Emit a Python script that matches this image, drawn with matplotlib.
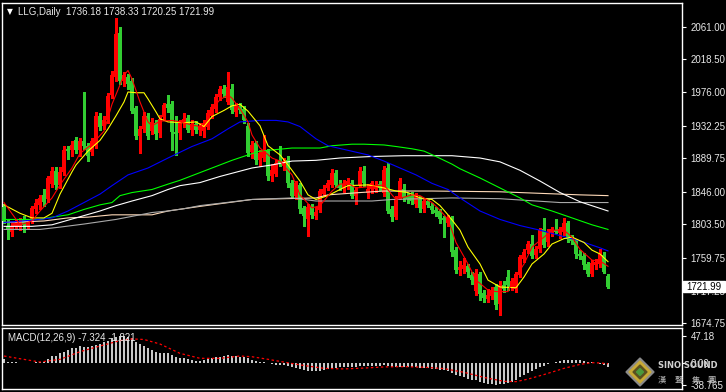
"""
LLG daily candlestick chart with moving averages and a MACD panel,
drawn in the style of a MetaTrader terminal.
"""

import matplotlib
matplotlib.use('Agg')
from matplotlib import pyplot as plt
from matplotlib.patches import Polygon, Rectangle
import numpy as np

# Daily bars, oldest first
opens = [1826, 1801, 1794, 1801, 1800, 1811, 1802, 1810, 1823, 1829,
         1842, 1837, 1856, 1873, 1855, 1872, 1902, 1900, 1914, 1900,
         1912, 1906, 1898, 1906, 1945, 1932, 1939, 1972, 1996, 2053,
         1990, 1996, 1990, 1955, 1919, 1928, 1945, 1925, 1935, 1922,
         1944, 1960, 1960, 1924, 1922, 1935, 1942, 1927, 1934, 1926,
         1925, 1931, 1945, 1954, 1970, 1980, 1963, 1980, 1950, 1958,
         1954, 1932, 1898, 1909, 1887, 1890, 1899, 1866, 1869, 1886,
         1880, 1887, 1857, 1841, 1855, 1825, 1811, 1826, 1815, 1822,
         1843, 1851, 1855, 1870, 1855, 1851, 1855, 1858, 1841, 1855,
         1873, 1845, 1849, 1850, 1856, 1844, 1877, 1823, 1813, 1838,
         1850, 1840, 1840, 1830, 1836, 1824, 1834, 1828, 1822, 1821,
         1812, 1806, 1812, 1770, 1744, 1745, 1749, 1738, 1717, 1739,
         1714, 1707, 1710, 1722, 1700, 1725, 1735, 1722, 1719, 1738,
         1758, 1770, 1778, 1764, 1771, 1797, 1780, 1792, 1796, 1792,
         1793, 1806, 1786, 1780, 1765, 1763, 1752, 1739, 1750, 1752,
         1764, 1736.18]
highs = [1830, 1810, 1806, 1809, 1812, 1814, 1810, 1828, 1836, 1842,
         1850, 1867, 1878, 1878, 1878, 1905, 1906, 1912, 1918, 1916,
         1976, 1910, 1916, 1950, 1948, 1945, 1975, 2003, 2072, 2060,
         2002, 2000, 1994, 1958, 1932, 1950, 1948, 1942, 1940, 1946,
         1962, 1972, 1964, 1945, 1940, 1948, 1946, 1940, 1938, 1936,
         1940, 1952, 1960, 1973, 1984, 1985, 2002, 1986, 1962, 1962,
         1958, 1936, 1912, 1912, 1900, 1920, 1902, 1882, 1888, 1905,
         1890, 1892, 1862, 1860, 1858, 1828, 1830, 1830, 1826, 1850,
         1855, 1862, 1876, 1874, 1862, 1862, 1864, 1862, 1852, 1878,
         1880, 1856, 1860, 1860, 1860, 1880, 1884, 1828, 1840, 1864,
         1856, 1844, 1846, 1845, 1840, 1838, 1838, 1832, 1826, 1824,
         1815, 1816, 1815, 1774, 1756, 1760, 1752, 1742, 1745, 1742,
         1718, 1720, 1722, 1726, 1730, 1730, 1744, 1734, 1742, 1764,
         1772, 1782, 1790, 1776, 1799, 1812, 1798, 1800, 1810, 1800,
         1812, 1808, 1790, 1784, 1770, 1766, 1755, 1757, 1758, 1771,
         1768, 1738.33]
lows = [1806, 1784, 1789, 1797, 1796, 1794, 1798, 1806, 1818, 1824,
        1828, 1833, 1852, 1850, 1851, 1868, 1889, 1893, 1897, 1893,
        1902, 1886, 1894, 1903, 1926, 1928, 1935, 1968, 1990, 1986,
        1984, 1980, 1948, 1915, 1896, 1924, 1915, 1921, 1915, 1918,
        1940, 1950, 1900, 1894, 1915, 1930, 1924, 1920, 1922, 1920,
        1918, 1928, 1942, 1950, 1966, 1970, 1960, 1948, 1945, 1948,
        1936, 1892, 1890, 1882, 1880, 1886, 1862, 1860, 1866, 1880,
        1875, 1852, 1838, 1836, 1818, 1802, 1789, 1812, 1810, 1820,
        1840, 1848, 1852, 1852, 1848, 1846, 1850, 1838, 1830, 1852,
        1854, 1838, 1845, 1846, 1848, 1840, 1818, 1808, 1810, 1836,
        1834, 1832, 1830, 1826, 1820, 1820, 1826, 1818, 1814, 1806,
        1787, 1802, 1762, 1740, 1738, 1740, 1735, 1726, 1712, 1705,
        1702, 1703, 1706, 1693, 1686, 1716, 1718, 1718, 1716, 1735,
        1755, 1766, 1760, 1760, 1768, 1774, 1776, 1788, 1792, 1786,
        1790, 1780, 1778, 1760, 1758, 1746, 1736, 1736, 1746, 1748,
        1740, 1720.25]
closes = [1808, 1796, 1801, 1806, 1808, 1803, 1806, 1825, 1832, 1838,
          1833, 1864, 1873, 1855, 1872, 1901, 1899, 1907, 1900, 1912,
          1906, 1892, 1912, 1945, 1931, 1940, 1971, 1998, 2051, 1990,
          1998, 1986, 1951, 1919, 1928, 1945, 1919, 1937, 1921, 1941,
          1959, 1955, 1924, 1921, 1935, 1941, 1927, 1934, 1926, 1932,
          1936, 1948, 1957, 1970, 1980, 1973, 1982, 1952, 1958, 1952,
          1939, 1896, 1907, 1887, 1896, 1900, 1866, 1874, 1884, 1883,
          1886, 1857, 1841, 1857, 1823, 1815, 1826, 1816, 1820, 1847,
          1849, 1857, 1870, 1855, 1851, 1856, 1860, 1841, 1848, 1873,
          1858, 1850, 1857, 1855, 1851, 1874, 1821, 1813, 1836, 1860,
          1838, 1837, 1834, 1840, 1825, 1834, 1829, 1822, 1818, 1810,
          1809, 1812, 1767, 1744, 1748, 1750, 1741, 1731, 1740, 1713,
          1708, 1712, 1717, 1699, 1725, 1720, 1724, 1730, 1739, 1761,
          1768, 1778, 1763, 1771, 1796, 1777, 1794, 1797, 1794, 1797,
          1806, 1784, 1782, 1765, 1762, 1750, 1739, 1753, 1754, 1765,
          1742, 1721.99]

# Moving averages (bar number, value)
ma_red_bar = [0, 4, 7, 9, 12, 14, 17, 19, 22, 25, 27, 30, 31, 32, 34, 36, 37, 39,
              42, 44, 47, 49, 51, 52, 54, 56, 57, 59, 61, 62, 64, 67, 69, 72, 74,
              77, 79, 82, 84, 86, 88, 92, 95, 97, 98, 102, 104, 107, 109, 111, 113,
              116, 118, 121, 123, 126, 127, 130, 132, 135, 137, 140, 142, 144, 147,
              149, 151]
ma_red_val = [1832, 1803, 1808, 1821, 1838, 1855, 1877, 1896, 1908, 1925, 1960,
              1998, 2004, 1993, 1963, 1937, 1932, 1938, 1939, 1937, 1933, 1931,
              1941, 1954, 1966, 1972, 1968, 1954, 1937, 1920, 1903, 1890, 1886,
              1868, 1842, 1825, 1828, 1847, 1856, 1857, 1851, 1853, 1855, 1842,
              1836, 1842, 1841, 1832, 1822, 1810, 1780, 1752, 1731, 1718, 1716,
              1716, 1728, 1752, 1774, 1787, 1796, 1796, 1787, 1771, 1757, 1756,
              1749]
ma_yellow_bar = [0, 4, 7, 10, 12, 14, 17, 18, 21, 24, 26, 28, 30, 31, 33, 35, 36,
                 38, 39, 41, 45, 48, 50, 52, 55, 57, 59, 61, 64, 66, 69, 71, 74, 76,
                 78, 81, 84, 86, 91, 95, 98, 101, 104, 107, 109, 111, 114, 116, 119,
                 121, 124, 128, 130, 132, 135, 137, 140, 142, 145, 147, 149, 151]
ma_yellow_val = [1829, 1818, 1812, 1812, 1818, 1843, 1872, 1881, 1899, 1913, 1928,
                 1945, 1963, 1976, 1975, 1975, 1967, 1950, 1941, 1937, 1936, 1937,
                 1931, 1944, 1952, 1958, 1960, 1951, 1932, 1906, 1894, 1881, 1860,
                 1842, 1836, 1841, 1849, 1854, 1855, 1851, 1847, 1845, 1838, 1836,
                 1828, 1816, 1796, 1774, 1752, 1731, 1722, 1721, 1735, 1752, 1765,
                 1778, 1785, 1787, 1780, 1770, 1765, 1755]
ma_blue_bar = [0, 7, 12, 16, 20, 24, 27, 31, 36, 41, 47, 52, 56, 59, 64, 68, 71, 74,
               78, 81, 86, 91, 95, 99, 103, 107, 111, 114, 119, 124, 129, 134, 139,
               144, 149, 151]
ma_blue_val = [1806, 1809, 1812, 1821, 1832, 1843, 1854, 1868, 1877, 1890, 1905,
               1915, 1928, 1937, 1939, 1939, 1937, 1931, 1915, 1906, 1900, 1894,
               1886, 1877, 1868, 1857, 1849, 1838, 1821, 1810, 1802, 1796, 1789,
               1782, 1773, 1769]
ma_green_bar = [0, 9, 12, 16, 20, 24, 27, 29, 32, 37, 41, 44, 52, 57, 61, 64, 72,
                79, 82, 87, 90, 95, 98, 102, 105, 108, 112, 114, 119, 124, 129, 132,
                137, 142, 147, 151]
ma_green_val = [1810, 1810, 1813, 1816, 1823, 1829, 1832, 1841, 1845, 1849, 1856,
                1861, 1877, 1887, 1894, 1899, 1903, 1903, 1906, 1908, 1908, 1907,
                1905, 1902, 1899, 1892, 1882, 1876, 1864, 1851, 1838, 1829, 1821,
                1812, 1803, 1797]
ma_white_bar = [0, 7, 12, 16, 20, 24, 28, 32, 37, 41, 44, 49, 54, 62, 67, 72, 78,
                84, 92, 100, 112, 119, 124, 129, 134, 139, 144, 151]
ma_white_val = [1801, 1801, 1803, 1809, 1815, 1821, 1828, 1834, 1841, 1849, 1854,
                1858, 1866, 1877, 1881, 1886, 1887, 1890, 1892, 1893, 1893, 1890,
                1885, 1874, 1860, 1845, 1833, 1821]
ma_gray_bar = [0, 9, 14, 20, 24, 28, 32, 37, 41, 45, 49, 62, 72, 78, 92, 97, 112,
               124, 139, 151]
ma_gray_val = [1797, 1797, 1800, 1804, 1807, 1810, 1814, 1819, 1821, 1824, 1828,
               1836, 1838, 1834, 1834, 1836, 1838, 1837, 1832, 1832]
ma_peach_bar = [0, 10, 16, 21, 27, 37, 41, 49, 62, 78, 81, 89, 95, 107, 124, 139,
                144, 151]
ma_peach_val = [1806, 1808, 1812, 1813, 1816, 1816, 1821, 1827, 1836, 1838, 1842,
                1845, 1847, 1847, 1846, 1843, 1842, 1841]

# MACD(12,26,9): histogram per bar and signal line
macd_hist = [5.9, 1.8, 1.2, 0.5, -0.5, -1.0, -1.2, -0.5, 0.5, 1.8,
             1.8, 5.9, 11.8, 11.8, 16.5, 19.4, 22.4, 25.3, 25.3, 29.5,
             28.3, 28.3, 29.5, 31.2, 33.0, 37.1, 38.9, 43.0, 45.9, 47.18,
             47.1, 45.9, 43.0, 37.1, 33.0, 29.5, 25.3, 22.4, 19.4, 16.5,
             17.7, 17.7, 13.5, 10.6, 7.7, 7.7, 5.9, 4.7, 3.5, 3.5,
             4.7, 5.9, 7.7, 9.4, 10.6, 11.8, 13.5, 11.8, 11.8, 10.6,
             9.4, 7.7, 5.5, 3.5, 2.0, 1.0, -1.0, -2.5, -3.5, -4.0,
             -4.5, -6.0, -8.0, -9.0, -11.0, -13.0, -14.0, -15.0, -15.5, -14.0,
             -13.0, -11.5, -9.5, -9.0, -8.5, -8.0, -7.5, -8.0, -8.0, -6.5,
             -6.0, -6.0, -5.5, -5.5, -5.5, -4.5, -6.5, -8.0, -8.0, -7.0,
             -7.0, -7.5, -8.0, -8.0, -9.0, -9.0, -9.5, -10.5, -11.5, -12.5,
             -13.5, -14.0, -17.5, -21.0, -23.5, -25.5, -28.0, -30.0, -31.0, -33.5,
             -35.5, -37.0, -38.0, -38.765, -38.0, -37.0, -36.0, -34.5, -30.0, -26.0,
             -22.0, -18.0, -15.0, -12.0, -8.0, -5.5, -3.0, -0.5, 1.5, 3.0,
             5.0, 5.5, 5.5, 5.0, 4.0, 3.0, 1.5, 0.5, -0.5, -1.5,
             -4.0, -7.324]
signal_bar = [0, 4, 9, 14, 19, 24, 29, 32, 35, 39, 44, 49, 54, 59, 62, 66, 70, 75,
              80, 85, 90, 95, 100, 105, 110, 115, 120, 125, 128, 131, 135, 140,
              144, 147, 149, 151]
signal_val = [11.8, 7.0, 1.2, 5.9, 19.4, 29.5, 39.0, 42.0, 41.0, 33.0, 16.5, 7.7,
              7.7, 11.8, 10.5, 6.0, 1.0, -5.0, -10.0, -11.0, -9.5, -7.5, -7.0,
              -8.0, -10.5, -17.0, -26.0, -33.0, -33.5, -29.0, -21.0, -10.0, -3.0,
              0.0, -0.5, -1.821]

price_ticks = [2061.00, 2018.50, 1976.00, 1932.25, 1889.75, 1846.00,
               1803.50, 1759.75, 1717.25, 1674.75]
macd_ticks = [47.18, 0.0, -38.765]
macd_tick_labels = ['47.18', '0.00', '-38.765']

W, H = 726, 392
FONT = 'Liberation Sans'
FG = '#E8E8E8'


def fx(px):
    return px / W


def fy(py):
    return 1 - py / H


def style_axes(ax):
    ax.set_facecolor('black')
    for s in ax.spines.values():
        s.set_color('white')
        s.set_linewidth(1)
    ax.set_xticks([])
    ax.yaxis.tick_right()
    ax.tick_params(axis='y', colors='white', length=3, width=0.8, pad=3,
                   labelsize=7, labelcolor=FG)


def draw_candles(ax):
    o = np.array(opens)
    h = np.array(highs)
    l = np.array(lows)
    c = np.array(closes)
    idx = np.arange(len(c))
    col = np.where(c >= o, '#FF0000', '#32CD32')
    ax.vlines(idx, l, h, colors=col, lw=0.75, zorder=2, antialiased=False)
    body = np.maximum(np.abs(c - o), 0.8)
    ax.bar(idx, body, bottom=np.minimum(o, c), width=0.78, color=col,
           linewidth=0, zorder=3, antialiased=False)


def draw_logo(fig):
    cx, cy = 640, 372
    for r, colr in [(14, '#8A8A8A'), (11, '#C9A935'), (7, '#5A5020'), (3.5, '#4C9A3C')]:
        pts = [(fx(cx), fy(cy - r)), (fx(cx + r), fy(cy)),
               (fx(cx), fy(cy + r)), (fx(cx - r), fy(cy))]
        fig.add_artist(Polygon(pts, closed=True, color=colr,
                               transform=fig.transFigure, zorder=5))
    fig.text(fx(658), fy(365), 'SINO SOUND', color='#D0D0D0', fontsize=6,
             fontweight='bold', family='DejaVu Sans', va='center', zorder=6)
    for x0, ch in zip([658, 675, 692, 707], '漢聲集團'):
        fig.text(fx(x0), fy(380), ch, color='#BEBEBE', fontsize=6,
                 family=['Noto Sans CJK TC'], va='center', zorder=6)


def main():
    fig = plt.figure(figsize=(W / 100, H / 100), dpi=100, facecolor='black')

    # Price panel
    ax = fig.add_axes([fx(2), fy(325), fx(680), 322 / H])
    style_axes(ax)
    ax.set_xlim(-0.5, 169.5)
    ax.set_ylim(1672.5, 2091.9)
    ax.set_yticks(price_ticks)
    ax.set_yticklabels(['%.2f' % t for t in price_ticks], fontfamily=FONT)

    draw_candles(ax)
    lines = [(ma_peach_bar, ma_peach_val, '#FFDAB9'),
             (ma_gray_bar, ma_gray_val, '#A9A9A9'),
             (ma_white_bar, ma_white_val, '#FFFFFF'),
             (ma_green_bar, ma_green_val, '#00FF00'),
             (ma_blue_bar, ma_blue_val, '#0000FF'),
             (ma_yellow_bar, ma_yellow_val, '#FFFF00'),
             (ma_red_bar, ma_red_val, '#FF0000')]
    for xs, ys, colr in lines:
        ax.plot(xs, ys, color=colr, lw=0.8, zorder=4)

    # MACD panel
    ax2 = fig.add_axes([fx(2), fy(389), fx(680), 61 / H])
    style_axes(ax2)
    ax2.set_xlim(-0.5, 169.5)
    ax2.set_ylim(-46.5, 61.3)
    ax2.bar(np.arange(len(macd_hist)), macd_hist, width=0.3, color='#C8C8C8',
            linewidth=0, antialiased=False)
    ax2.plot(signal_bar, signal_val, color='#FF0000', lw=0.9, ls=(0, (2, 2)))
    ax2.set_yticks(macd_ticks)
    ax2.set_yticklabels(macd_tick_labels, fontfamily=FONT)

    # Header texts
    fig.text(fx(7), fy(12), '\u25bc', color='white', fontsize=5.5,
             family='DejaVu Sans', va='center')
    fig.text(fx(18), fy(12), 'LLG,Daily  1736.18 1738.33 1720.25 1721.99',
             color=FG, fontsize=7, family=FONT, va='center')
    fig.text(fx(8), fy(338), 'MACD(12,26,9) -7.324 -1.821',
             color=FG, fontsize=7, family=FONT, va='center')

    # Last price box on the price scale
    fig.add_artist(Rectangle((fx(683), fy(292)), fx(42), 11 / H, color='white',
                             transform=fig.transFigure, zorder=5))
    fig.text(fx(686), fy(286.5), '1721.99', color='black', fontsize=7,
             family=FONT, va='center', zorder=6)

    draw_logo(fig)

    fig.savefig('out.png', dpi=100, facecolor='black')


if __name__ == '__main__':
    main()
